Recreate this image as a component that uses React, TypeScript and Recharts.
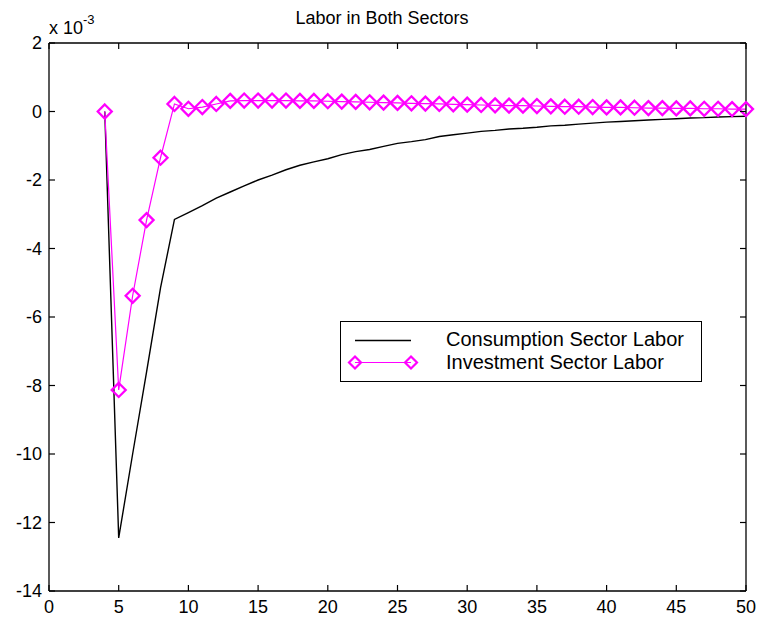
import { ComposedChart, Line, XAxis, YAxis } from 'recharts'

const periods = [
  4, 5, 6, 7, 8, 9, 10, 11, 12, 13, 14, 15, 16, 17, 18, 19, 20, 21, 22, 23, 24, 25, 26,
  27, 28, 29, 30, 31, 32, 33, 34, 35, 36, 37, 38, 39, 40, 41, 42, 43, 44, 45, 46, 47, 48, 49, 50,
]

// values in units of 1e-3
const consumptionLabor = [
  0, -12.45, -10.0, -7.6, -5.15, -3.15, -2.95, -2.75, -2.53, -2.35, -2.17, -2.0, -1.86, -1.7,
  -1.57, -1.47, -1.38, -1.26, -1.17, -1.11, -1.02, -0.93, -0.88, -0.82, -0.73, -0.68, -0.63,
  -0.58, -0.55, -0.51, -0.49, -0.46, -0.42, -0.4, -0.37, -0.34, -0.31, -0.29, -0.27, -0.25,
  -0.23, -0.21, -0.19, -0.18, -0.16, -0.15, -0.14,
]

const investmentLabor = [
  0, -8.13, -5.38, -3.17, -1.35, 0.22, 0.08, 0.13, 0.22, 0.31, 0.32, 0.32, 0.32, 0.32, 0.31,
  0.31, 0.3, 0.29, 0.28, 0.27, 0.26, 0.25, 0.24, 0.23, 0.22, 0.21, 0.2, 0.19, 0.18, 0.17, 0.17,
  0.16, 0.15, 0.14, 0.14, 0.13, 0.12, 0.12, 0.11, 0.1, 0.1, 0.09, 0.09, 0.08, 0.08, 0.07, 0.07,
]

const xTicks = [0, 5, 10, 15, 20, 25, 30, 35, 40, 45, 50]
const yTicks = [-14, -12, -10, -8, -6, -4, -2, 0, 2]

const data = periods.map((p, i) => ({
  period: p,
  consumption: consumptionLabor[i],
  investment: investmentLabor[i],
}))

const MAGENTA = '#ff00ff'
const FONT = '"Liberation Sans", Arial, sans-serif'
const TICK_LEN = 6
const X_LABEL_GAP = 22
const Y_LABEL_GAP = 7

function Diamond(props: { cx?: number; cy?: number; index?: number }) {
  const { cx, cy, index } = props
  if (cx == null || cy == null) return <g key={index} />
  const r = 7
  return (
    <path
      key={index}
      d={`M${cx},${cy - r}L${cx + r},${cy}L${cx},${cy + r}L${cx - r},${cy}Z`}
      fill="none"
      stroke={MAGENTA}
      strokeWidth={2.3}
    />
  )
}

// MATLAB-style ticks: pointing into the plot box
const BottomTick = (p: any) => {
  const base = p.y - X_LABEL_GAP
  return (
    <g>
      <line x1={p.x} x2={p.x} y1={base} y2={base - TICK_LEN} stroke="#000" strokeWidth={1.2} />
      <text x={p.x} y={p.y} textAnchor="middle" fontSize={18} fontFamily={FONT} fill="#000">
        {p.payload.value}
      </text>
    </g>
  )
}

const LeftTick = (p: any) => {
  const base = p.x + Y_LABEL_GAP
  return (
    <g>
      <line x1={base} x2={base + TICK_LEN} y1={p.y} y2={p.y} stroke="#000" strokeWidth={1.2} />
      <text x={p.x} y={p.y} dy="0.36em" textAnchor="end" fontSize={18} fontFamily={FONT} fill="#000">
        {p.payload.value}
      </text>
    </g>
  )
}

const TopTick = (p: any) => (
  <line x1={p.x} x2={p.x} y1={p.y} y2={p.y + TICK_LEN} stroke="#000" strokeWidth={1.2} />
)

const RightTick = (p: any) => (
  <line x1={p.x} x2={p.x - TICK_LEN} y1={p.y} y2={p.y} stroke="#000" strokeWidth={1.2} />
)

function LegendBox() {
  return (
    <div
      style={{
        position: 'absolute',
        left: 340,
        top: 321,
        width: 362,
        height: 61,
        border: '1.5px solid #000',
        background: '#fff',
        fontFamily: FONT,
        fontSize: 20,
        lineHeight: '23px',
        color: '#000',
        boxSizing: 'border-box',
      }}
    >
      <svg width={80} height={58} style={{ position: 'absolute', left: 0, top: 0 }}>
        <line x1={14} x2={70} y1={18.5} y2={18.5} stroke="#000" strokeWidth={1.3} />
        <line x1={14} x2={70} y1={40.5} y2={40.5} stroke={MAGENTA} strokeWidth={1.2} />
        <path d="M14,34.5L20,40.5L14,46.5L8,40.5Z" fill="none" stroke={MAGENTA} strokeWidth={2.2} />
        <path d="M70,34.5L76,40.5L70,46.5L64,40.5Z" fill="none" stroke={MAGENTA} strokeWidth={2.2} />
      </svg>
      <div style={{ position: 'absolute', left: 105, top: 6 }}>Consumption Sector Labor</div>
      <div style={{ position: 'absolute', left: 105, top: 29 }}>Investment Sector Labor</div>
    </div>
  )
}

export default function App() {
  return (
    <div style={{ position: 'fixed', left: 0, top: 0, width: 762, height: 623, background: '#fff' }}>
      <ComposedChart
        width={762}
        height={623}
        data={data}
        margin={{ top: 42, right: 15, bottom: 0, left: 0 }}
      >
        <XAxis
          xAxisId="bottom"
          dataKey="period"
          type="number"
          domain={[0, 50]}
          ticks={xTicks}
          height={32}
          tickSize={0}
          tickMargin={X_LABEL_GAP}
          tickLine={false}
          tick={BottomTick}
          stroke="#000"
          strokeWidth={1.3}
        />
        <XAxis
          xAxisId="top"
          dataKey="period"
          orientation="top"
          type="number"
          domain={[0, 50]}
          ticks={xTicks}
          height={1}
          tickSize={0}
          tickMargin={0}
          tickLine={false}
          tick={TopTick}
          stroke="#000"
          strokeWidth={1.3}
        />
        <YAxis
          yAxisId="left"
          type="number"
          domain={[-14, 2]}
          ticks={yTicks}
          width={49}
          tickSize={0}
          tickMargin={Y_LABEL_GAP}
          tickLine={false}
          tick={LeftTick}
          stroke="#000"
          strokeWidth={1.3}
        />
        <YAxis
          yAxisId="right"
          orientation="right"
          type="number"
          domain={[-14, 2]}
          ticks={yTicks}
          width={1}
          tickSize={0}
          tickMargin={0}
          tickLine={false}
          tick={RightTick}
          stroke="#000"
          strokeWidth={1.3}
        />
        {/* invisible series so the top/right frame axes get drawn */}
        <Line
          xAxisId="top"
          yAxisId="right"
          dataKey="consumption"
          stroke="none"
          dot={false}
          activeDot={false}
          legendType="none"
          isAnimationActive={false}
        />
        <Line
          xAxisId="bottom"
          yAxisId="left"
          type="linear"
          dataKey="consumption"
          name="Consumption Sector Labor"
          stroke="#000"
          strokeWidth={1.4}
          dot={false}
          isAnimationActive={false}
        />
        <Line
          xAxisId="bottom"
          yAxisId="left"
          type="linear"
          dataKey="investment"
          name="Investment Sector Labor"
          stroke={MAGENTA}
          strokeWidth={1.2}
          dot={(p: any) => <Diamond key={p.index} cx={p.cx} cy={p.cy} index={p.index} />}
          isAnimationActive={false}
        />
      </ComposedChart>
      <div
        style={{
          position: 'absolute',
          left: 282,
          width: 200,
          top: 8,
          textAlign: 'center',
          fontFamily: FONT,
          fontSize: 18,
          whiteSpace: 'nowrap',
        }}
      >
        Labor in Both Sectors
      </div>
      <div style={{ position: 'absolute', left: 49, top: 15, fontFamily: FONT, fontSize: 18 }}>
        x 10<sup style={{ fontSize: 13, position: 'relative', top: -3 }}>-3</sup>
      </div>
      <LegendBox />
    </div>
  )
}
